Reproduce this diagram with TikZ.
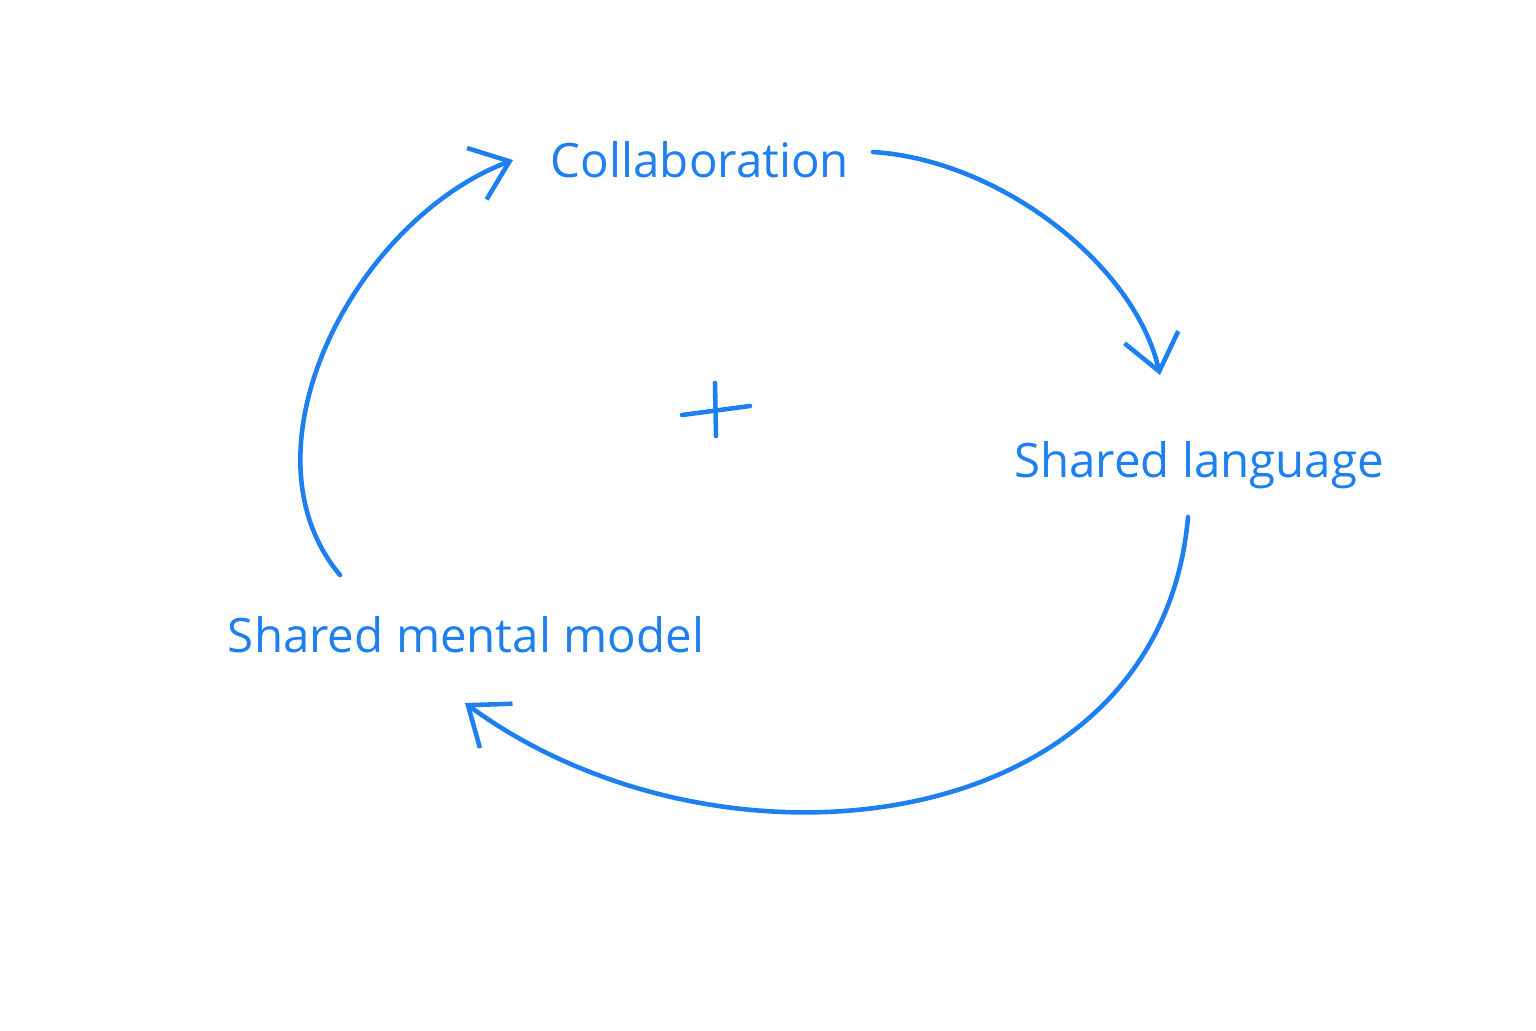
\documentclass[tikz,border=0pt]{standalone}
\usepackage{fontspec}
\setmainfont{Open Sans}
\usetikzlibrary{arrows.meta}
\definecolor{ink}{RGB}{30,128,240}
\begin{document}
\begin{tikzpicture}[x=0.01cm,y=-0.01cm,
  lbl/.style={text=ink,font=\fontsize{13.5}{16}\selectfont,inner sep=0pt},
  flow/.style={draw=ink,line width=1.3pt,line cap=round,line join=round,
    -{Straight Barb[length=3.5mm,width=5.5mm,line width=1.3pt]}}]
\useasboundingbox (0,0) rectangle (1536,1030);
\node[lbl] (collab) at (700,160) {Collaboration};
\node[lbl] (lang) at (1199,465) {Shared language};
\node[lbl] (smm) at (466,635) {Shared mental model};
\coordinate (a1s) at (873,152);
\coordinate (a1e) at (1160,375);
\coordinate (a2s) at (1188,517);
\coordinate (a2e) at (465,703);
\coordinate (a3s) at (340,575);
\coordinate (a3e) at (513,160);
\draw[flow] (a1s) .. controls (1000,160) and (1135,265) .. (a1e);
\draw[flow] (a2s) .. controls (1160,840) and (720,890) .. (a2e);
\draw[flow] (a3s) .. controls (235,450) and (355,220) .. (a3e);
\draw[ink,line width=1.3pt,line cap=round] (682,415) -- (750,406);
\draw[ink,line width=1.3pt,line cap=round] (715,383) -- (716,436);
\end{tikzpicture}
\end{document}
